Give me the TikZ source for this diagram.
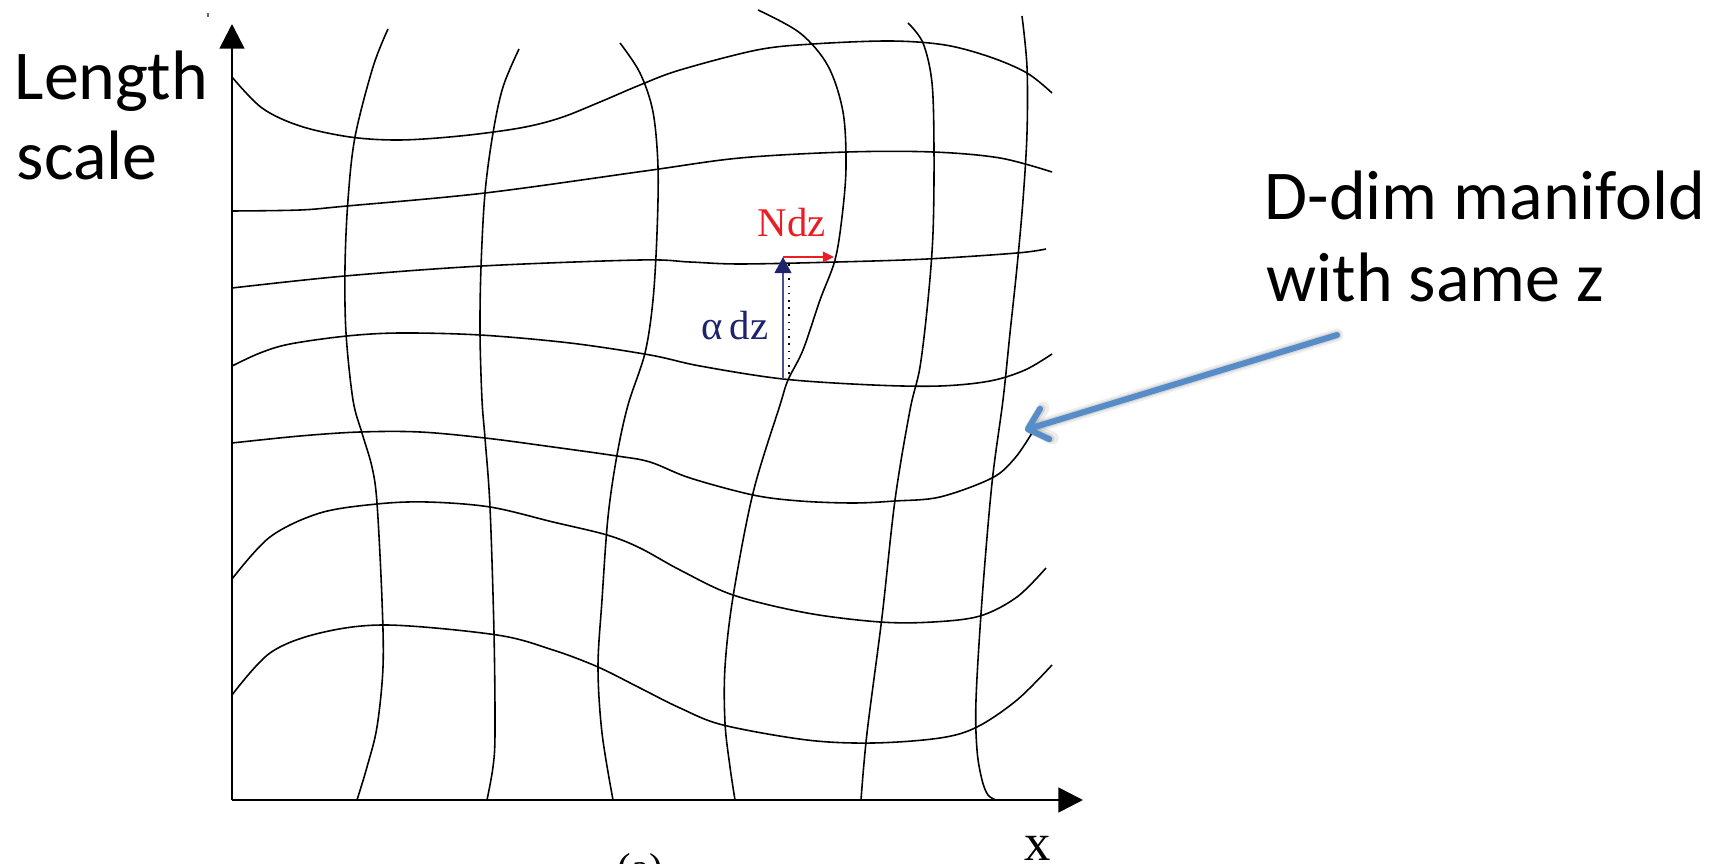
\documentclass[tikz,border=0pt]{standalone}
\usepackage{fontspec}
\setmainfont{Carlito}
\newfontfamily\tnr{Liberation Serif}
\usetikzlibrary{arrows.meta}
\definecolor{navy}{RGB}{30,36,108}
\definecolor{ndzred}{RGB}{237,28,36}
\definecolor{arrowblue}{RGB}{86,140,200}
\tikzset{
  gridline/.style={line width=0.45pt, smooth, tension=0.55},
  axisline/.style={line width=0.75pt, -{Triangle[length=7pt,width=7pt]}},
  lbl/.style={inner sep=0pt, anchor=base west, font=\fontsize{19.9pt}{22pt}\selectfont},
  serifl/.style={inner sep=0pt, anchor=base west},
  pointer/.style={line cap=round, -{Straight Barb[length=5pt,width=9pt,line cap=round,line join=round]}},
}
\begin{document}
\begin{tikzpicture}[x=0.01cm,y=-0.01cm]
\useasboundingbox (0,0) rectangle (1733,864);

% horizontal grid curves
\draw[gridline] plot coordinates {(232,77) (262,108) (300,126) (350,137) (400,140) (460,136) (520,128) (560,118) (600,102) (640,85) (680,70) (757,50) (813,44) (890,41) (945,45) (990,57) (1027,73) (1052,93)};
\draw[gridline] plot coordinates {(232,211) (300,210) (347,206) (485,193) (645,171) (740,158) (847,152) (933,152) (1000,158) (1052,172)};
\draw[gridline] plot coordinates {(232,288) (345,276) (482,266) (640,260) (690,262) (740,264) (837,262) (927,259) (1017,253) (1046,249)};
\draw[gridline] plot coordinates {(232,366) (260,353) (290,344) (347,336) (400,333) (480,335) (570,343) (650,355) (700,366) (783,379) (873,385) (940,386) (990,381) (1025,370) (1052,354)};
\draw[gridline] plot coordinates {(232,443) (300,436) (360,432) (420,432) (485,438) (553,447) (617,456) (650,462) (690,478) (753,495) (800,501) (853,503) (895,501) (940,497) (992,478) (1015,458) (1032,433)};
\draw[gridline] plot coordinates {(232,579) (270,537) (320,513) (377,504) (427,502) (490,507) (553,522) (607,535) (640,548) (680,570) (733,595) (807,613) (880,622) (933,622) (980,616) (1017,597) (1046,568)};
\draw[gridline] plot coordinates {(232,695) (270,653) (320,633) (387,625) (497,635) (553,650) (598,667) (640,688) (680,708) (723,725) (807,740) (873,743) (940,738) (977,727) (1017,700) (1052,665)};

% vertical grid curves
\draw[gridline] plot coordinates {(388,29) (373,67) (355,137) (348,200) (345,267) (346,333) (353,400) (362,433) (372,467) (377,503) (382,600) (383,667) (377,727) (367,767) (357,800)};
\draw[gridline] plot coordinates {(519,49) (503,87) (493,133) (485,193) (481,267) (480,333) (482,400) (485,438) (490,507) (494,633) (495,733) (493,767) (487,800)};
\draw[gridline] plot coordinates {(620,43) (640,73) (653,112) (658,167) (657,233) (653,300) (645,353) (628,405) (617,455) (608,517) (602,600) (598,667) (602,733) (613,800)};
\draw[gridline] plot coordinates {(758,10) (800,33) (828,66) (843,112) (846,167) (842,217) (835,260) (820,300) (803,350) (788,380) (780,405) (753,493) (733,597) (725,667) (725,723) (730,767) (735,800)};
\draw[gridline] plot coordinates {(908,23) (923,43) (932,83) (934,150) (933,233) (928,300) (920,367) (910,410) (895,500) (882,617) (867,733) (861,800)};
\draw[gridline] plot coordinates {(1022,16) (1027,67) (1027,133) (1023,200) (1017,267) (1010,333) (1003,400) (992,483) (982,600) (976,700) (977,750) (982,780) (988,795) (996,800)};

% axes
\coordinate (O) at (232,800);
\coordinate (ytip) at (232,24);
\coordinate (xtip) at (1083,800);
\draw[axisline] (O) -- (ytip);
\draw[axisline] (O) -- (xtip);
\draw[line width=0.3pt, black!60] (208,13) -- (208,17);

% small arrows
\coordinate (a0) at (783,379);
\coordinate (a1) at (783,257);
\coordinate (r1) at (834,257);
\coordinate (d0) at (789,264);
\coordinate (d1) at (789,379);
\draw[black, line width=0.45pt, dash pattern=on 0.45pt off 1.6pt] (d0) -- (d1);
\draw[navy!80, line width=0.5pt, -{Triangle[length=4.6pt,width=4.8pt,color=navy]}] (a0) -- (a1);
\draw[ndzred, line width=0.5pt, -{Triangle[length=3.2pt,width=3pt]}] (a1) -- (r1);

\node[serifl, text=ndzred, font=\tnr\fontsize{11.6pt}{14pt}\selectfont] (ndz) at (757,237) {Ndz};
\node[serifl, text=navy, font=\tnr\fontsize{11.6pt}{14pt}\selectfont] (adz) at (701,340) {α\,dz};

% labels
\node[lbl] (len1) at (14,100) {Length};
\node[lbl] (len2) at (16,180) {scale};
\node[lbl] (dd1) at (1264,220) {D-dim manifold};
\node[lbl] (dd2) at (1266,302) {with same z};
\node[serifl, font=\tnr\fontsize{15pt}{18pt}\selectfont] (xl) at (1024,860) {x};
\node[serifl, font=\tnr\fontsize{11.5pt}{14pt}\selectfont] (capa) at (617,881) {(a)};

% blue pointer arrow with soft shadow
\coordinate (bs) at (1337,335);
\coordinate (bt) at (1025,430);
\begin{scope}[xshift=1.2pt, yshift=-1.6pt]
\draw[black, opacity=0.07, line width=3.6pt, pointer] (bs) -- (bt);
\draw[black, opacity=0.10, line width=2.4pt, pointer] (bs) -- (bt);
\end{scope}
\draw[arrowblue, line width=1.7pt, pointer] (bs) -- (bt);
\end{tikzpicture}
\end{document}
